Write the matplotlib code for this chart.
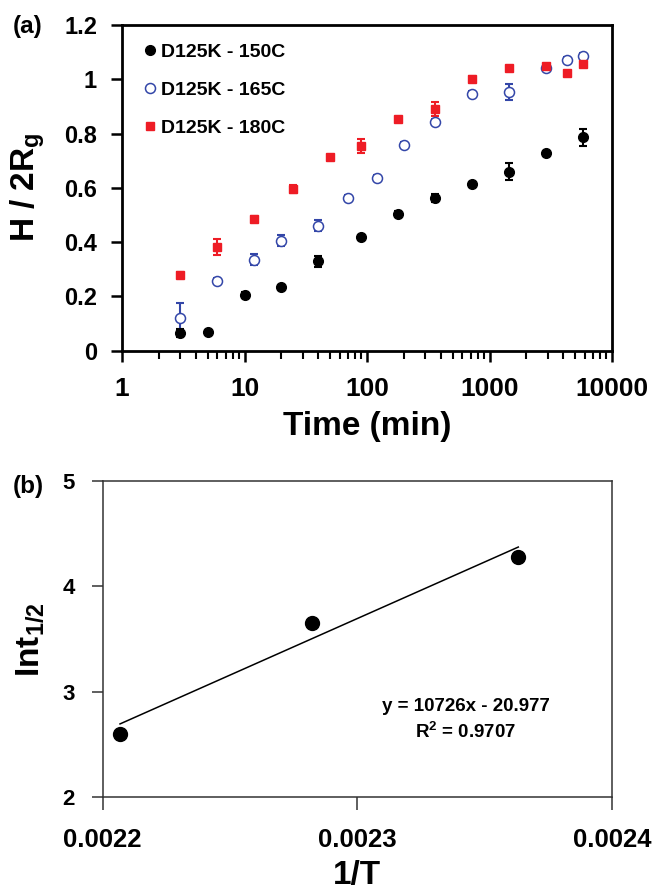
import numpy as np
import matplotlib
matplotlib.use("Agg")
import matplotlib.pyplot as plt
from matplotlib.ticker import FixedLocator, FormatStrFormatter, LogLocator, NullFormatter

plt.rcParams['font.family'] = ['Liberation Sans', 'DejaVu Sans']
plt.rcParams['font.weight'] = 'bold'
plt.rcParams['mathtext.fontset'] = 'custom'
plt.rcParams['mathtext.rm'] = 'Liberation Sans:bold'
plt.rcParams['mathtext.it'] = 'Liberation Sans:bold'
plt.rcParams['mathtext.bf'] = 'Liberation Sans:bold'

# ---- panel (a) data: H/2Rg vs annealing time ----
t_150 = [3, 5, 10, 20, 40, 90, 180, 360, 720, 1440, 2880, 5760]
h_150 = [0.065, 0.07, 0.205, 0.233, 0.33, 0.418, 0.504, 0.563, 0.613, 0.66, 0.727, 0.786]
e_150 = [0.015, 0.008, 0.01, 0.01, 0.02, 0.01, 0.01, 0.015, 0.01, 0.03, 0.01, 0.03]

t_165 = [3, 6, 12, 20, 40, 70, 120, 200, 360, 720, 1440, 2880, 4320, 5760]
h_165 = [0.12, 0.258, 0.335, 0.405, 0.46, 0.563, 0.637, 0.758, 0.844, 0.947, 0.952, 1.04, 1.071, 1.087]
e_165 = [0.057, 0.01, 0.02, 0.02, 0.02, 0.01, 0.01, 0.01, 0.01, 0.01, 0.03, 0.01, 0.01, 0.01]

t_180 = [3, 6, 12, 25, 50, 90, 180, 360, 720, 1440, 2880, 4320, 5760]
h_180 = [0.279, 0.382, 0.485, 0.596, 0.712, 0.755, 0.852, 0.89, 1.001, 1.04, 1.048, 1.022, 1.056]
e_180 = [0.012, 0.028, 0.012, 0.015, 0.01, 0.025, 0.01, 0.025, 0.01, 0.01, 0.01, 0.01, 0.012]

labels_a = ['D125K - 150C', 'D125K - 165C', 'D125K - 180C']

# ---- panel (b) data: Arrhenius-type plot ----
inv_T = [0.0022068, 0.0022823, 0.0023632]
ln_t_half = [2.595, 3.654, 4.275]
fit_slope = 10726
fit_intercept = -20.977
fit_text = 'y = 10726x - 20.977\nR$^2$ = 0.9707'

W, H = 652, 892
fig = plt.figure(figsize=(W / 100, H / 100), dpi=100)


def box(l, t, r, b):
    return [l / W, 1 - b / H, (r - l) / W, (b - t) / H]


red = '#ee1c25'
blue = '#3346a8'

# panel (a)
ax = fig.add_axes(box(122, 25, 612, 350.7))
ax.errorbar(t_150, h_150, yerr=e_150, fmt='none', ecolor='black', elinewidth=1.5, capsize=3, capthick=1.5)
ax.errorbar(t_165, h_165, yerr=e_165, fmt='none', ecolor=blue, elinewidth=1.5, capsize=3, capthick=1.5)
ax.errorbar(t_180, h_180, yerr=e_180, fmt='none', ecolor=red, elinewidth=1.5, capsize=3, capthick=1.5)
ax.plot(t_150, h_150, 'o', color='black', ms=7, ls='none', label=labels_a[0])
ax.plot(t_165, h_165, 'o', mfc='white', mec=blue, mew=1.1, ms=7.2, ls='none', label=labels_a[1])
ax.plot(t_180, h_180, 's', color=red, ms=6, ls='none', label=labels_a[2])

ax.set_xscale('log')
ax.set_xlim(1, 10000)
ax.set_ylim(0, 1.2)
ax.xaxis.set_major_locator(FixedLocator([1, 10, 100, 1000, 10000]))
ax.xaxis.set_major_formatter(FormatStrFormatter('%g'))
ax.xaxis.set_minor_locator(LogLocator(base=10, subs=np.arange(2, 10)))
ax.xaxis.set_minor_formatter(NullFormatter())
ax.set_yticks([0, 0.2, 0.4, 0.6, 0.8, 1.0, 1.2])
ax.yaxis.set_major_formatter(FormatStrFormatter('%g'))
ax.tick_params(axis='y', which='major', direction='out', length=8, width=1.8, labelsize=17, pad=10)
ax.tick_params(axis='x', which='major', direction='out', length=8, width=1.8, labelsize=19, pad=11)
ax.tick_params(axis='x', which='minor', direction='out', length=6, width=1.5)
for s in ax.spines.values():
    s.set_linewidth(2)

ax.legend(loc='upper left', frameon=False, fontsize=14, handlelength=0.6, handletextpad=0.25,
          labelspacing=1.05, borderaxespad=0.5, bbox_to_anchor=(0.010, 0.998))

fig.text(367 / W, 1 - 427 / H, 'Time (min)', ha='center', va='center', fontsize=24)
fig.text(28 / W, 1 - 187 / H, 'H / 2R$_\\mathrm{g}$', ha='center', va='center', rotation=90, fontsize=24)
fig.text(28 / W, 1 - 27 / H, '(a)', ha='center', va='center', fontsize=17.5)

# panel (b)
bx = fig.add_axes(box(102.7, 480.7, 612, 797))
bx.plot(inv_T, ln_t_half, 'o', color='black', ms=10, ls='none')
xf = np.array([min(inv_T), max(inv_T)])
bx.plot(xf, fit_slope * xf + fit_intercept, color='black', lw=1.1)
bx.text(0.0023427, 2.73, fit_text, ha='center', va='center', fontsize=13.5, linespacing=1.4)

bx.set_xlim(0.0022, 0.0024)
bx.set_ylim(2, 5)
bx.set_xticks([0.0022, 0.0023, 0.0024])
bx.set_yticks([2, 3, 4, 5])
bx.xaxis.set_major_formatter(FormatStrFormatter('%g'))
bx.tick_params(axis='y', direction='out', length=8, width=1.1, labelsize=16, pad=12, color='#333333')
bx.tick_params(axis='x', direction='out', length=9, width=1.1, labelsize=18.5, pad=13, color='#333333')
for s in bx.spines.values():
    s.set_linewidth(1.1)
    s.set_color('#333333')

fig.text(357 / W, 1 / H, '1/T', ha='center', va='bottom', fontsize=24)
fig.text(30 / W, 1 - 640 / H, 'Int$_\\mathrm{1/2}$', ha='center', va='center', rotation=90, fontsize=24)
fig.text(28 / W, 1 - 486 / H, '(b)', ha='center', va='center', fontsize=17.5)

fig.savefig('out.png', dpi=100)
